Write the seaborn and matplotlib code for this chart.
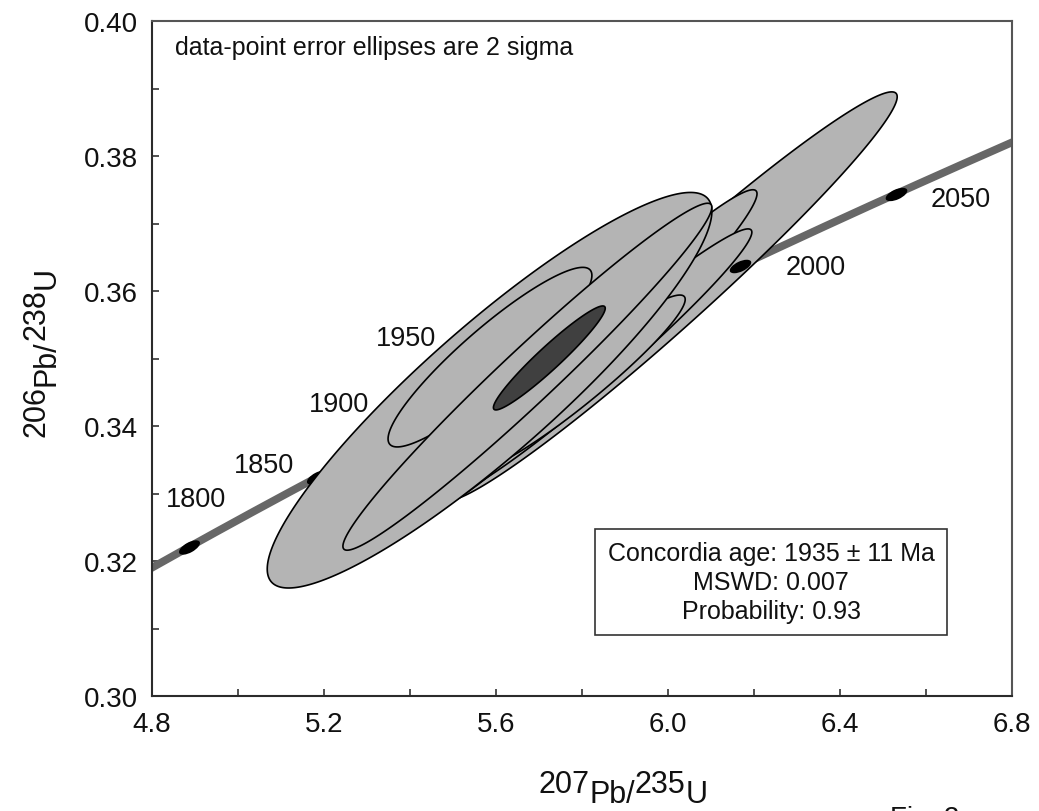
import numpy as np
import pandas as pd
import matplotlib
matplotlib.use("Agg")
import matplotlib.pyplot as plt
import seaborn as sns
from matplotlib.markers import MarkerStyle
from matplotlib.transforms import Affine2D
from matplotlib.ticker import MultipleLocator, FormatStrFormatter

# U decay constants (1/yr)
LAMBDA_238 = 1.55125e-10
LAMBDA_235 = 9.8485e-10

# Age ticks along the concordia (Ma)
tick_ages = [1800, 1850, 1900, 1950, 2000, 2050]

# Zircon analyses: ratios, 2-sigma absolute errors and error correlation
pb207_u235 = [6.004, 5.821, 5.838, 5.792, 5.585, 5.586, 5.673]
pb206_u238 = [0.3592, 0.3511, 0.3494, 0.3464, 0.3453, 0.3502, 0.3473]
err207_2s = [0.529, 0.386, 0.357, 0.248, 0.517, 0.237, 0.429]
err206_2s = [0.0303, 0.0239, 0.0198, 0.0130, 0.0293, 0.0133, 0.0257]
err_rho = [0.976, 0.975, 0.975, 0.95, 0.904, 0.91, 0.977]

# Concordia age result
concordia_age = 1935      # Ma
concordia_age_err = 11    # Ma
mswd = 0.007
probability = 0.93
conc_err207_2s = 0.130
conc_err206_2s = 0.0077
conc_rho = 0.955


def concordia_xy(age_ma):
    t = np.asarray(age_ma, dtype=float) * 1e6
    return np.exp(LAMBDA_235 * t) - 1.0, np.exp(LAMBDA_238 * t) - 1.0


def error_ellipse(ax, cx, cy, sx, sy, r, face, z):
    th = np.linspace(0, 2 * np.pi, 400)
    ex = cx + sx * np.cos(th)
    ey = cy + sy * (r * np.cos(th) + np.sqrt(1 - r * r) * np.sin(th))
    ax.fill(ex, ey, facecolor=face, edgecolor="black", linewidth=1.2,
            zorder=z, joinstyle="round")


sns.set_theme(style="ticks")
plt.rcParams["font.family"] = ["Liberation Sans", "DejaVu Sans"]
plt.rcParams["axes.unicode_minus"] = False

W, H = 1039, 812
fig = plt.figure(figsize=(W / 100, H / 100), dpi=100)
ax = fig.add_axes([152 / W, 115 / H, 860 / W, 675 / H])
ax.set_xlim(4.8, 6.8)
ax.set_ylim(0.30, 0.40)

# concordia curve
curve_ages = np.linspace(1700, 2150, 500)
cx_curve, cy_curve = concordia_xy(curve_ages)
curve = pd.DataFrame({"x": cx_curve, "y": cy_curve})
sns.lineplot(data=curve, x="x", y="y", sort=False, color="#676767",
             linewidth=5.6, ax=ax, zorder=1, solid_capstyle="butt")

# data-point error ellipses: the first analysis sits beneath the age ticks
for i, (x, y, sx, sy, r) in enumerate(zip(pb207_u235, pb206_u238, err207_2s,
                                          err206_2s, err_rho)):
    z = 2 if i == 0 else 3 + i * 0.01
    error_ellipse(ax, x, y, sx, sy, r, "#b4b4b4", z)

# concordia age ellipse
ca_x, ca_y = concordia_xy(concordia_age)
error_ellipse(ax, float(ca_x), float(ca_y), conc_err207_2s, conc_err206_2s,
              conc_rho, "#404040", 4)

# age tick markers, elongated along the curve
tx, ty = concordia_xy(tick_ages)
label_offsets = {1800: (7, -41), 1850: (-53, -5), 1900: (-112, 4),
                 1950: (-186, 8), 2000: (75, 8), 2050: (65, 12)}
for age, x, y in zip(tick_ages, tx, ty):
    x2, y2 = concordia_xy(age + 1)
    p1 = ax.transData.transform((x, y))
    p2 = ax.transData.transform((float(x2), float(y2)))
    ang = np.degrees(np.arctan2(p2[1] - p1[1], p2[0] - p1[0]))
    mk = MarkerStyle("o", transform=Affine2D().scale(2.3, 1.0).rotate_deg(ang))
    sns.scatterplot(x=[x], y=[y], marker=mk, s=7.3 ** 2, color="black",
                    linewidth=0, ax=ax, zorder=2.5, legend=False)
    dx, dy = label_offsets[age]
    ax.annotate(str(age), xy=(x, y), xytext=(dx * 0.72, -dy * 0.72),
                textcoords="offset points", ha="center", va="baseline",
                fontsize=19.5, color="#111111", zorder=5)

# axes styling
ax.xaxis.set_major_locator(MultipleLocator(0.4))
ax.xaxis.set_minor_locator(MultipleLocator(0.2))
ax.yaxis.set_major_locator(MultipleLocator(0.02))
ax.yaxis.set_minor_locator(MultipleLocator(0.01))
ax.xaxis.set_major_formatter(FormatStrFormatter("%.1f"))
ax.yaxis.set_major_formatter(FormatStrFormatter("%.2f"))
ax.tick_params(which="both", direction="in", length=5, width=1.2,
               color="#333333", top=False, right=False)
ax.tick_params(which="major", labelsize=20, labelcolor="#111111")
ax.tick_params(axis="x", which="major", pad=11)
ax.tick_params(axis="y", which="major", pad=10)
for side, sp in ax.spines.items():
    sp.set_visible(True)
    sp.set_linewidth(1.5)
    sp.set_color("#2b2b2b" if side in ("left", "bottom") else "#555555")
ax.set_xlabel("")
ax.set_ylabel("")

ax.text(23 / 860, (697 - 55) / 675, "data-point error ellipses are 2 sigma",
        transform=ax.transAxes, ha="left", va="baseline", fontsize=18,
        color="#111111", zorder=6)

summary = (f"Concordia age: {concordia_age} \u00b1 {concordia_age_err} Ma\n"
           f"MSWD: {mswd}\nProbability: {probability}")
ax.text((771 - 152) / 860, (697 - 583) / 675, summary, transform=ax.transAxes,
        ha="center", va="center", multialignment="center", fontsize=18,
        linespacing=1.25, color="#111111", zorder=6,
        bbox=dict(boxstyle="square,pad=0.5", facecolor="white",
                  edgecolor="#333333", linewidth=1.2))


def isotope_label(x0, y0, parts, fs, raise_pt, vertical=False):
    """Draw a ratio label whose mass numbers are raised, full-size digits."""
    first_txt, first_sup = parts[0]
    if vertical:
        prev = fig.text(x0 / W, 1 - y0 / H, first_txt, rotation=90,
                        ha="right", va="bottom", fontsize=fs, color="#111111")
    else:
        prev = fig.text(x0 / W, 1 - y0 / H, first_txt, ha="left",
                        va="bottom", fontsize=fs, color="#111111")
    prev_sup = first_sup
    for txt, sup in parts[1:]:
        shift = 0
        if sup and not prev_sup:
            shift = raise_pt
        elif prev_sup and not sup:
            shift = -raise_pt
        if vertical:
            prev = ax.annotate(txt, xy=(1, 1), xycoords=prev,
                               xytext=(-shift, 0), textcoords="offset points",
                               rotation=90, ha="right", va="bottom",
                               fontsize=fs, color="#111111",
                               annotation_clip=False)
        else:
            prev = ax.annotate(txt, xy=(1, 0), xycoords=prev,
                               xytext=(0, shift), textcoords="offset points",
                               ha="left", va="bottom", fontsize=fs,
                               color="#111111", annotation_clip=False)
        prev_sup = sup


label_fs = 22
isotope_label(538, 800, [("207", True), ("Pb/", False), ("235", True), ("U", False)],
              label_fs, 7)
isotope_label(52, 437, [("206", True), ("Pb/", False), ("238", True), ("U", False)],
              label_fs, 7, vertical=True)

fig.text(890 / W, 1 - 806 / H, "Fig. 2", ha="left", va="top", fontsize=20,
         color="#111111")

fig.savefig("out.png", dpi=100)
